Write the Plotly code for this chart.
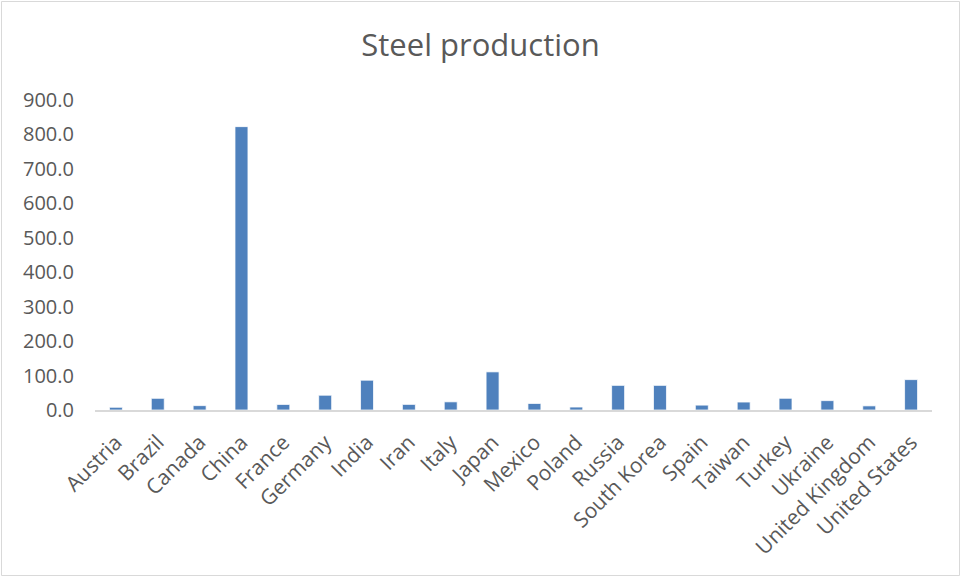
import plotly.graph_objects as go

countries = ["Austria", "Brazil", "Canada", "China", "France", "Germany", "India", "Iran",
             "Italy", "Japan", "Mexico", "Poland", "Russia", "South Korea", "Spain", "Taiwan",
             "Turkey", "Ukraine", "United Kingdom", "United States"]
production = [7.9, 33.9, 12.7, 822.7, 16.1, 42.9, 86.5, 16.3, 23.7, 110.7, 19.0, 8.6,
              71.5, 71.5, 14.2, 23.1, 34.0, 27.2, 12.0, 88.2]
y_ticks = [0, 100, 200, 300, 400, 500, 600, 700, 800, 900]

W, H = 961, 577
L, R, T, B = 95, 932, 100, 410

fig = go.Figure(go.Bar(
    x=countries, y=production,
    marker=dict(color="#4f81bd", line=dict(color="#ffffff", width=0.75)),
))

font_family = "Open Sans"
grey = "#595959"

fig.update_layout(
    width=W, height=H,
    margin=dict(l=L, r=W - R, t=T, b=H - B, autoexpand=False),
    paper_bgcolor="white", plot_bgcolor="white",
    showlegend=False,
    bargap=0.69,
    title=dict(text="Steel production", x=0.5, xref="container", xanchor="center",
               y=1 - 45 / H, yref="container", yanchor="middle",
               font=dict(family=font_family, size=31, color=grey)),
    font=dict(family=font_family, color=grey),
    xaxis=dict(tickangle=-45, showline=True, linecolor="#d9d9d9", linewidth=1.5,
               showgrid=False, ticks="", ticklabelstandoff=10,
               tickfont=dict(size=21, color=grey)),
    yaxis=dict(range=[0, 900], tickvals=y_ticks, tickformat=".1f", showline=False,
               showgrid=False, zeroline=False, ticks="", ticklabelstandoff=20,
               tickfont=dict(size=20, color=grey)),
)

pw, ph = R - L, B - T
fig.add_shape(type="rect", xref="paper", yref="paper",
              x0=(1.5 - L) / pw, x1=(959.5 - L) / pw,
              y0=(B - 575.5) / ph, y1=(B - 1.5) / ph,
              line=dict(color="#d9d9d9", width=1))

fig.write_html("out.html", config={"displayModeBar": False},
               post_script="document.body.style.margin='0px';document.body.style.overflow='hidden';")
